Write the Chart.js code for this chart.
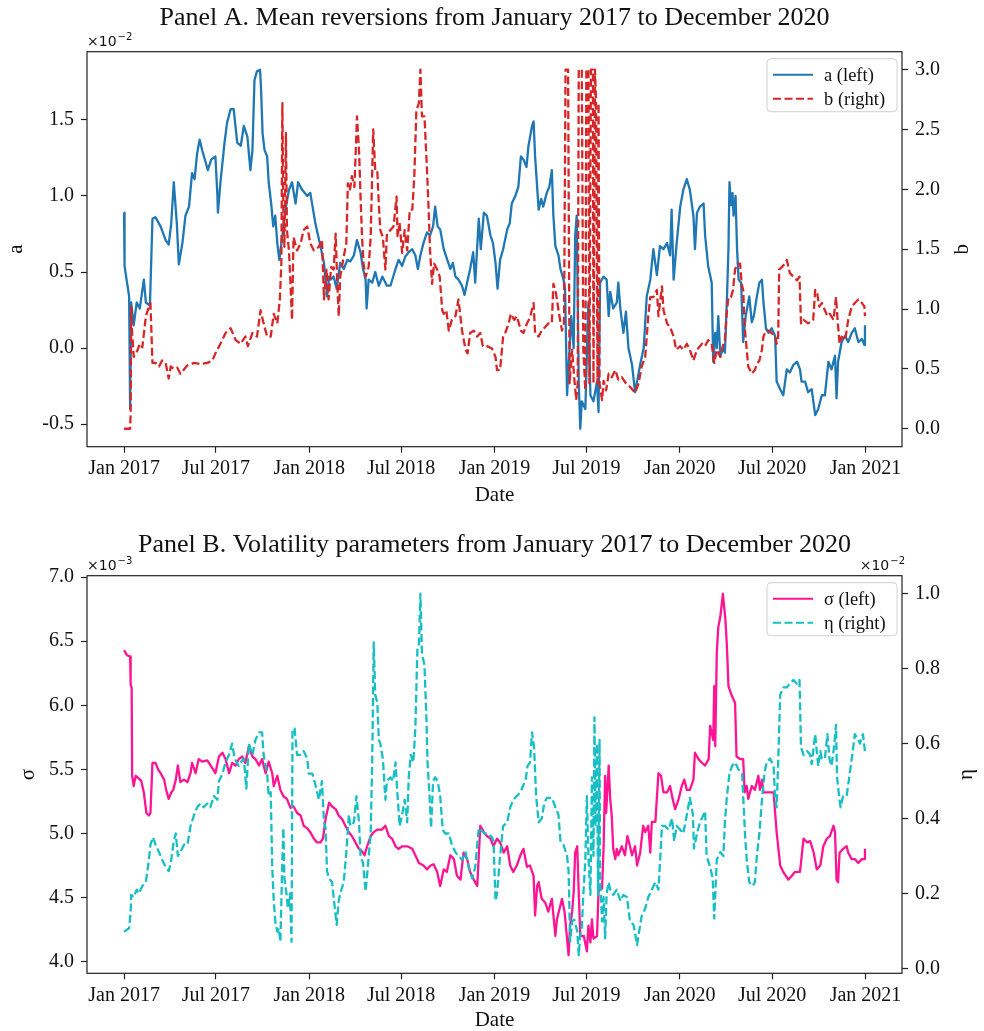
<!DOCTYPE html>
<html>
<head>
<meta charset="utf-8">
<script src="https://cdn.jsdelivr.net/npm/chart.js@4.4.1/dist/chart.umd.min.js"></script>
<style>
  html, body { margin: 0; padding: 0; background: #ffffff; }
  #wrap { position: relative; width: 984px; height: 1031px; overflow: hidden; }
  #wrap canvas { position: absolute; left: 0; }
</style>
</head>
<body>
<div id="wrap">
  <canvas id="panelA" width="984" height="520" style="top:0px"></canvas>
  <canvas id="panelB" width="984" height="511" style="top:520px"></canvas>
</div>
<script>
// x values are days counted from 1 Jan 2017.
const dateTickDays = [0, 181, 365, 546, 730, 911, 1095, 1277, 1461];
const dateTickLabels = ['Jan 2017', 'Jul 2017', 'Jan 2018', 'Jul 2018', 'Jan 2019',
                        'Jul 2019', 'Jan 2020', 'Jul 2020', 'Jan 2021'];

// Tick values of the four value axes (a and eta in units of 1e-2, sigma in units of 1e-3).
const aTicks = [-0.5, 0.0, 0.5, 1.0, 1.5];
const bTicks = [0.0, 0.5, 1.0, 1.5, 2.0, 2.5, 3.0];
const sigmaTicks = [4.0, 4.5, 5.0, 5.5, 6.0, 6.5, 7.0];
const etaTicks = [0.0, 0.2, 0.4, 0.6, 0.8, 1.0];

// Mean reversion a (x 1e-2): [day, value]
const aPoints = [[0,0.89],[1,0.54],[5,0.45],[10,0.34],[12,-0.40],[14,0.30],[19,0.15],[25,0.30],[31,0.26],[39,0.45],[43,0.30],[51,0.28],[56,0.85],[62,0.86],[72,0.80],[82,0.71],[88,0.68],[93,0.82],[98,1.09],[104,0.82],[108,0.55],[115,0.69],[121,0.87],[128,0.93],[134,1.15],[139,1.11],[144,1.28],[149,1.37],[154,1.30],[161,1.22],[165,1.17],[172,1.24],[180,1.26],[184,1.00],[185,0.89],[190,1.09],[198,1.35],[203,1.48],[210,1.57],[216,1.57],[223,1.35],[230,1.33],[236,1.46],[243,1.39],[249,1.17],[253,1.30],[257,1.76],[262,1.82],[268,1.83],[270,1.70],[273,1.41],[277,1.30],[282,1.26],[285,1.09],[290,0.95],[294,0.80],[298,0.87],[302,0.69],[306,0.58],[312,0.74],[318,0.91],[325,1.04],[331,1.09],[338,0.95],[343,1.09],[351,1.04],[361,1.00],[367,1.02],[377,0.82],[387,0.67],[394,0.56],[397,0.45],[400,0.34],[404,0.47],[407,0.45],[413,0.47],[419,0.39],[426,0.56],[433,0.52],[440,0.58],[446,0.57],[453,0.61],[459,0.71],[466,0.63],[471,0.52],[476,0.45],[478,0.26],[482,0.45],[489,0.43],[495,0.50],[502,0.41],[509,0.47],[518,0.41],[525,0.41],[535,0.52],[541,0.58],[548,0.54],[554,0.60],[561,0.63],[568,0.65],[574,0.61],[579,0.52],[584,0.61],[590,0.69],[597,0.76],[603,0.74],[609,0.80],[613,0.93],[618,0.80],[623,0.78],[630,0.65],[636,0.59],[643,0.52],[648,0.56],[653,0.47],[659,0.45],[666,0.41],[671,0.35],[676,0.43],[682,0.52],[688,0.63],[692,0.43],[699,0.85],[703,0.65],[709,0.89],[715,0.87],[722,0.74],[727,0.69],[732,0.56],[736,0.39],[741,0.58],[747,0.65],[755,0.78],[760,0.82],[764,0.95],[771,1.00],[777,1.06],[782,1.26],[787,1.24],[793,1.19],[797,1.33],[804,1.46],[807,1.49],[810,1.26],[814,1.06],[817,0.91],[822,0.98],[826,0.93],[833,1.02],[838,1.06],[843,1.17],[846,0.87],[850,0.67],[856,0.61],[860,0.52],[866,0.45],[869,0.39],[873,-0.31],[878,0.00],[881,0.21],[886,0.00],[889,0.74],[892,0.87],[896,-0.22],[899,-0.53],[902,-0.35],[909,-0.40],[915,0.30],[919,-0.31],[925,-0.35],[932,-0.22],[935,-0.42],[938,0.43],[945,0.47],[951,0.45],[955,0.21],[958,0.37],[964,0.26],[971,0.30],[974,0.43],[978,0.26],[984,0.10],[989,0.24],[994,0.00],[1001,-0.11],[1007,-0.29],[1011,-0.22],[1017,-0.11],[1024,0.00],[1030,0.34],[1037,0.45],[1043,0.65],[1050,0.48],[1056,0.67],[1063,0.65],[1070,0.69],[1076,0.61],[1079,0.91],[1083,0.45],[1089,0.69],[1096,0.93],[1102,1.04],[1109,1.11],[1115,1.04],[1122,0.87],[1125,0.65],[1129,0.89],[1135,0.93],[1142,0.95],[1145,0.74],[1151,0.54],[1158,0.43],[1161,-0.09],[1165,0.10],[1168,0.00],[1171,0.21],[1175,-0.05],[1181,0.00],[1184,-0.03],[1188,0.32],[1191,0.65],[1193,1.09],[1196,0.94],[1199,1.02],[1201,0.87],[1205,1.00],[1208,0.65],[1211,0.45],[1216,0.43],[1220,0.04],[1225,0.21],[1232,0.34],[1237,0.17],[1241,0.21],[1247,0.34],[1252,0.43],[1257,0.45],[1260,0.30],[1265,0.13],[1270,0.10],[1276,0.13],[1283,0.08],[1286,-0.22],[1293,-0.27],[1299,-0.31],[1306,-0.14],[1312,-0.16],[1319,-0.11],[1326,-0.09],[1332,-0.14],[1335,-0.22],[1342,-0.22],[1348,-0.29],[1355,-0.27],[1362,-0.44],[1368,-0.40],[1375,-0.31],[1381,-0.31],[1388,-0.09],[1394,-0.14],[1401,-0.05],[1404,-0.33],[1407,-0.09],[1414,0.04],[1421,0.08],[1427,0.04],[1434,0.10],[1440,0.13],[1447,0.04],[1454,0.06],[1459,0.02],[1460,0.15]];

// Mean reversion b: [day, value]
const bPoints = [[0,0.00],[12,0.00],[13,0.13],[14,1.02],[16,0.80],[19,0.60],[26,0.65],[31,0.71],[36,0.68],[43,0.94],[49,1.02],[52,1.05],[56,0.55],[62,0.55],[69,0.52],[75,0.57],[82,0.55],[88,0.42],[92,0.52],[98,0.50],[105,0.51],[111,0.46],[125,0.53],[138,0.55],[151,0.54],[164,0.55],[174,0.57],[180,0.63],[190,0.71],[200,0.80],[210,0.84],[220,0.74],[230,0.71],[239,0.77],[244,0.69],[253,0.80],[262,0.77],[269,0.99],[275,0.88],[282,0.77],[289,0.77],[295,0.96],[302,0.88],[307,1.08],[310,1.38],[312,2.72],[314,1.77],[316,1.52],[319,2.47],[321,1.66],[325,1.49],[328,1.21],[331,0.91],[334,1.60],[341,1.49],[348,1.55],[354,1.66],[361,1.69],[367,1.55],[374,1.49],[384,1.52],[390,1.58],[394,1.08],[399,1.33],[403,1.08],[408,1.35],[413,1.33],[417,1.63],[420,1.24],[423,0.94],[426,1.27],[433,1.44],[438,1.55],[441,2.05],[445,1.99],[449,2.11],[454,2.02],[459,2.61],[463,2.33],[466,1.94],[469,1.60],[472,1.38],[476,1.27],[482,1.35],[486,1.60],[491,2.50],[495,2.16],[499,2.16],[502,1.88],[505,1.66],[510,1.60],[515,1.33],[518,1.63],[525,1.66],[531,1.69],[537,1.94],[539,1.60],[543,1.72],[548,1.47],[553,1.66],[558,1.49],[563,1.83],[568,1.83],[572,2.11],[576,2.66],[581,2.72],[584,3.00],[587,2.61],[592,2.61],[597,2.16],[600,1.85],[603,1.49],[607,1.21],[611,1.38],[617,1.33],[622,1.27],[627,0.99],[630,0.96],[635,0.99],[640,0.82],[646,0.91],[653,0.94],[659,1.08],[666,0.82],[673,0.66],[677,0.63],[682,0.80],[689,0.82],[696,0.77],[702,0.80],[707,0.69],[715,0.69],[725,0.67],[732,0.60],[735,0.49],[741,0.49],[747,0.77],[751,0.80],[758,0.88],[762,0.96],[769,0.91],[774,0.94],[782,0.82],[787,0.80],[794,0.88],[800,0.93],[807,1.05],[810,0.80],[817,0.77],[823,0.82],[830,0.85],[836,0.88],[843,0.88],[846,1.21],[850,1.16],[854,1.05],[858,0.94],[863,0.82],[867,0.88],[870,3.00],[875,3.00],[878,0.38],[883,0.66],[887,0.43],[891,0.24],[894,0.38],[896,3.00],[902,3.00],[905,0.66],[909,0.32],[911,3.00],[915,3.00],[917,0.38],[920,3.00],[924,3.00],[925,0.38],[928,3.00],[930,2.75],[933,0.38],[935,2.72],[937,0.38],[942,0.24],[945,0.40],[950,0.32],[955,0.46],[961,0.43],[968,0.49],[974,0.41],[981,0.43],[989,0.38],[997,0.35],[1007,0.30],[1014,0.38],[1020,0.52],[1027,0.60],[1033,0.94],[1037,1.10],[1043,1.10],[1050,1.16],[1053,0.94],[1060,1.19],[1063,0.99],[1070,0.88],[1076,0.85],[1083,0.77],[1088,0.66],[1096,0.69],[1102,0.66],[1109,0.71],[1115,0.66],[1122,0.57],[1129,0.66],[1139,0.71],[1145,0.69],[1151,0.74],[1158,0.71],[1163,0.55],[1168,0.66],[1175,0.60],[1181,0.71],[1184,0.74],[1188,0.99],[1191,1.10],[1196,1.10],[1200,1.16],[1204,1.33],[1209,1.38],[1214,1.38],[1217,1.21],[1220,1.16],[1223,0.85],[1227,0.66],[1230,0.52],[1237,0.46],[1243,0.49],[1247,0.54],[1252,0.57],[1257,0.66],[1260,0.77],[1265,0.82],[1270,0.82],[1276,0.80],[1283,0.77],[1286,0.71],[1289,0.77],[1291,1.33],[1296,1.35],[1302,1.38],[1306,1.41],[1312,1.30],[1319,1.27],[1326,1.24],[1331,1.27],[1334,0.88],[1339,0.91],[1348,0.88],[1358,0.91],[1362,1.16],[1366,1.13],[1370,1.02],[1375,1.05],[1381,0.99],[1386,0.94],[1391,0.96],[1398,0.91],[1403,1.10],[1406,0.91],[1410,0.71],[1414,0.77],[1421,0.74],[1427,0.91],[1434,1.02],[1440,1.05],[1447,1.08],[1454,1.05],[1459,1.02],[1460,0.94]];

// Volatility sigma (x 1e-3): [day, value]
const sigmaPoints = [[0,6.43],[6,6.39],[12,6.38],[13,6.16],[15,6.14],[16,5.45],[19,5.37],[23,5.45],[29,5.43],[34,5.41],[39,5.32],[44,5.16],[49,5.14],[52,5.16],[56,5.55],[62,5.55],[67,5.50],[72,5.47],[79,5.42],[83,5.34],[88,5.27],[93,5.32],[97,5.34],[102,5.42],[106,5.53],[111,5.40],[118,5.42],[125,5.40],[131,5.47],[134,5.55],[141,5.47],[147,5.58],[154,5.56],[164,5.57],[174,5.51],[180,5.47],[187,5.60],[194,5.63],[200,5.58],[207,5.47],[213,5.55],[220,5.53],[226,5.58],[233,5.60],[239,5.55],[246,5.68],[253,5.60],[259,5.58],[266,5.53],[272,5.58],[279,5.47],[285,5.56],[292,5.47],[295,5.37],[302,5.45],[308,5.34],[314,5.29],[321,5.27],[328,5.20],[334,5.21],[341,5.16],[348,5.14],[354,5.06],[361,5.04],[367,5.01],[374,4.96],[380,4.93],[387,4.93],[392,4.96],[397,5.11],[404,5.24],[410,5.21],[417,5.19],[423,5.14],[430,5.11],[436,5.06],[443,5.01],[449,4.98],[456,4.93],[463,4.88],[469,4.86],[474,4.83],[479,4.90],[486,4.98],[492,5.01],[499,5.03],[508,5.03],[515,5.06],[522,4.98],[528,4.96],[535,4.90],[541,4.88],[548,4.90],[558,4.90],[568,4.88],[574,4.83],[581,4.77],[590,4.75],[597,4.72],[604,4.75],[610,4.76],[617,4.70],[623,4.59],[630,4.72],[636,4.70],[643,4.83],[650,4.80],[656,4.67],[663,4.64],[669,4.85],[676,4.80],[682,4.70],[689,4.64],[696,4.59],[702,5.06],[709,5.01],[715,4.98],[722,4.96],[728,4.90],[735,4.96],[741,4.93],[748,4.85],[755,4.90],[761,4.75],[767,4.70],[774,4.75],[781,4.83],[787,4.88],[794,4.74],[800,4.75],[807,4.67],[810,4.36],[814,4.59],[817,4.62],[823,4.49],[830,4.46],[836,4.39],[843,4.49],[850,4.20],[853,4.33],[860,4.44],[863,4.49],[868,4.39],[873,4.18],[876,4.05],[879,4.28],[883,4.39],[886,4.54],[889,4.85],[893,4.90],[896,4.54],[899,4.20],[906,4.20],[912,4.08],[915,4.28],[919,4.15],[922,4.33],[925,4.18],[932,4.20],[935,4.54],[938,4.59],[942,4.57],[945,4.90],[948,5.45],[950,5.16],[955,5.53],[958,5.27],[961,5.14],[964,4.88],[968,4.80],[971,4.88],[974,4.83],[981,4.90],[987,4.83],[992,4.98],[997,4.90],[1001,4.83],[1007,4.90],[1011,4.75],[1017,4.85],[1023,5.06],[1027,5.01],[1033,5.06],[1037,4.85],[1040,5.09],[1047,5.09],[1053,5.47],[1058,5.45],[1063,5.32],[1070,5.32],[1076,5.37],[1081,5.27],[1086,5.19],[1093,5.27],[1099,5.37],[1104,5.42],[1109,5.34],[1115,5.34],[1122,5.42],[1125,5.63],[1132,5.58],[1139,5.55],[1145,5.53],[1152,5.58],[1155,5.84],[1161,5.73],[1163,6.15],[1165,5.68],[1168,6.41],[1171,6.61],[1175,6.69],[1180,6.87],[1185,6.67],[1188,6.46],[1191,6.15],[1198,6.07],[1204,6.02],[1207,5.60],[1214,5.58],[1220,5.58],[1223,5.32],[1227,5.37],[1230,5.27],[1237,5.37],[1243,5.34],[1250,5.45],[1253,5.34],[1257,5.42],[1260,5.32],[1270,5.32],[1280,5.32],[1283,5.16],[1286,5.01],[1293,4.75],[1299,4.70],[1309,4.64],[1316,4.67],[1322,4.70],[1332,4.70],[1339,4.96],[1346,4.93],[1352,4.94],[1359,4.85],[1365,4.72],[1372,4.75],[1378,4.90],[1385,4.96],[1391,4.98],[1398,5.06],[1401,5.01],[1404,4.64],[1407,4.62],[1410,4.85],[1417,4.88],[1424,4.90],[1427,4.85],[1434,4.80],[1440,4.80],[1447,4.77],[1454,4.80],[1459,4.80],[1460,4.88]];

// Volatility eta (x 1e-2): [day, value]
const etaPoints = [[0,0.098],[10,0.107],[13,0.15],[14,0.196],[19,0.19],[25,0.21],[29,0.20],[36,0.22],[43,0.23],[49,0.29],[52,0.33],[57,0.35],[62,0.33],[69,0.31],[75,0.29],[82,0.27],[88,0.26],[92,0.28],[98,0.34],[102,0.36],[106,0.30],[111,0.31],[118,0.33],[125,0.33],[131,0.38],[138,0.41],[144,0.43],[151,0.44],[157,0.43],[164,0.44],[170,0.43],[177,0.46],[184,0.45],[187,0.50],[194,0.52],[200,0.55],[207,0.57],[213,0.60],[218,0.56],[226,0.54],[230,0.55],[236,0.56],[241,0.48],[246,0.60],[253,0.57],[259,0.61],[266,0.63],[272,0.63],[275,0.57],[282,0.52],[285,0.46],[289,0.47],[292,0.27],[295,0.18],[298,0.125],[302,0.098],[305,0.107],[308,0.071],[312,0.29],[314,0.375],[316,0.24],[320,0.20],[323,0.16],[327,0.20],[330,0.071],[332,0.64],[336,0.64],[341,0.57],[348,0.57],[354,0.58],[361,0.56],[364,0.52],[371,0.52],[377,0.49],[384,0.45],[390,0.50],[394,0.39],[397,0.375],[400,0.26],[404,0.24],[410,0.23],[413,0.19],[419,0.116],[423,0.18],[426,0.20],[433,0.23],[438,0.31],[443,0.41],[446,0.38],[453,0.39],[458,0.46],[463,0.39],[466,0.30],[471,0.28],[476,0.205],[479,0.25],[486,0.36],[489,0.55],[492,0.87],[495,0.73],[499,0.71],[502,0.61],[505,0.60],[510,0.56],[515,0.45],[518,0.50],[525,0.51],[530,0.50],[535,0.55],[538,0.48],[543,0.38],[548,0.41],[553,0.45],[558,0.39],[561,0.51],[565,0.57],[570,0.55],[574,0.64],[578,0.85],[581,0.86],[584,1.00],[587,0.84],[592,0.81],[596,0.66],[598,0.55],[602,0.46],[605,0.375],[609,0.50],[613,0.51],[618,0.50],[623,0.46],[628,0.37],[633,0.36],[640,0.36],[646,0.33],[653,0.31],[659,0.30],[666,0.29],[673,0.31],[679,0.27],[686,0.24],[692,0.27],[699,0.375],[703,0.37],[710,0.36],[716,0.36],[725,0.35],[728,0.34],[732,0.18],[735,0.20],[738,0.25],[741,0.30],[747,0.38],[755,0.39],[761,0.43],[767,0.45],[774,0.46],[781,0.47],[787,0.49],[791,0.50],[795,0.54],[800,0.55],[804,0.63],[808,0.59],[812,0.46],[817,0.39],[823,0.40],[828,0.44],[833,0.455],[843,0.455],[850,0.43],[856,0.41],[860,0.34],[866,0.33],[873,0.30],[876,0.26],[879,0.071],[883,0.125],[887,0.13],[893,0.10],[896,0.035],[899,0.09],[902,0.107],[905,0.196],[909,0.29],[912,0.46],[915,0.30],[919,0.196],[922,0.51],[925,0.30],[927,0.67],[929,0.38],[932,0.60],[934,0.196],[937,0.61],[938,0.24],[942,0.125],[945,0.19],[948,0.08],[951,0.20],[955,0.23],[958,0.21],[964,0.196],[971,0.21],[978,0.18],[984,0.196],[991,0.19],[997,0.125],[1004,0.116],[1011,0.062],[1014,0.09],[1020,0.14],[1027,0.16],[1033,0.19],[1040,0.21],[1047,0.23],[1053,0.21],[1056,0.28],[1060,0.38],[1066,0.38],[1073,0.37],[1080,0.40],[1084,0.34],[1089,0.38],[1096,0.37],[1102,0.36],[1109,0.41],[1115,0.455],[1121,0.41],[1123,0.32],[1129,0.36],[1135,0.39],[1142,0.41],[1145,0.42],[1148,0.30],[1155,0.27],[1160,0.24],[1163,0.133],[1168,0.29],[1175,0.31],[1181,0.30],[1184,0.39],[1188,0.46],[1193,0.52],[1198,0.54],[1204,0.55],[1211,0.53],[1218,0.52],[1220,0.46],[1224,0.35],[1227,0.29],[1232,0.23],[1239,0.22],[1243,0.23],[1247,0.30],[1252,0.36],[1257,0.45],[1262,0.52],[1266,0.55],[1273,0.56],[1280,0.54],[1283,0.45],[1286,0.43],[1289,0.55],[1293,0.73],[1299,0.75],[1306,0.75],[1312,0.76],[1319,0.77],[1326,0.76],[1331,0.77],[1334,0.59],[1339,0.57],[1346,0.58],[1352,0.57],[1355,0.545],[1362,0.625],[1365,0.58],[1368,0.54],[1372,0.58],[1375,0.56],[1381,0.56],[1386,0.625],[1390,0.56],[1394,0.54],[1399,0.59],[1403,0.65],[1405,0.51],[1409,0.46],[1412,0.43],[1417,0.46],[1424,0.46],[1430,0.52],[1436,0.58],[1440,0.625],[1447,0.61],[1450,0.60],[1456,0.625],[1460,0.58]];

const SERIF = "'Liberation Serif', 'Times New Roman', Times, serif";
const SANS = "'DejaVu Sans', sans-serif";
Chart.defaults.font.family = SERIF;
Chart.defaults.color = '#111111';

// Axis limits with a 5% margin around the data, as an autoscaled plot would have.
function paddedRange(values, frac = 0.05) {
  const lo = Math.min(...values), hi = Math.max(...values);
  const m = (hi - lo) * frac;
  return { min: lo - m, max: hi + m };
}
const toXY = pts => pts.map(([d, v]) => ({ x: d, y: v }));
const xRange = paddedRange([...aPoints, ...bPoints, ...sigmaPoints, ...etaPoints].map(p => p[0]));

const tickGrid = { display: true, drawOnChartArea: false, drawTicks: true, tickLength: 6,
                   tickColor: '#222222', tickWidth: 1.2 };

function xAxis(height) {
  return {
    type: 'linear', position: 'bottom', min: xRange.min, max: xRange.max,
    afterBuildTicks: s => { s.ticks = dateTickDays.map(v => ({ value: v })); },
    afterFit: s => { s.height = height; },
    ticks: { autoSkip: false, maxRotation: 0, minRotation: 0, padding: 4,
             font: { size: 20 }, color: '#111111',
             callback: (v, i) => dateTickLabels[i] },
    grid: tickGrid, border: { display: false }
  };
}
function yAxis(position, range, tickValues, width) {
  return {
    type: 'linear', position, min: range.min, max: range.max,
    afterBuildTicks: s => { s.ticks = tickValues.map(v => ({ value: v })); },
    afterFit: s => { s.width = width; },
    ticks: { padding: 7, font: { size: 20 }, color: '#111111', callback: v => v.toFixed(1) },
    grid: tickGrid, border: { display: false }
  };
}

function drawExponent(ctx, x, y, exp, align) {
  ctx.textBaseline = 'alphabetic';
  ctx.textAlign = 'left';
  ctx.font = `14px ${SANS}`;
  const w1 = ctx.measureText('×10').width;
  ctx.font = `10px ${SANS}`;
  const w2 = ctx.measureText(exp).width;
  const x0 = align === 'right' ? x - w1 - w2 - 1 : x;
  ctx.font = `14px ${SANS}`;
  ctx.fillText('×10', x0, y);
  ctx.font = `10px ${SANS}`;
  ctx.fillText(exp, x0 + w1 + 1, y - 6);
}

// Frame, titles, axis labels, scale multipliers and legend box.
const panelDecor = {
  id: 'panelDecor',
  afterDraw(chart, args, o) {
    const ctx = chart.ctx, ca = chart.chartArea;
    const cx = (ca.left + ca.right) / 2, cy = (ca.top + ca.bottom) / 2;
    ctx.save();
    ctx.strokeStyle = '#222222';
    ctx.lineWidth = 1.2;
    ctx.strokeRect(ca.left, ca.top, ca.right - ca.left, ca.bottom - ca.top);

    ctx.fillStyle = '#111111';
    ctx.textAlign = 'center';
    ctx.textBaseline = 'middle';
    ctx.font = `26px ${SERIF}`;
    ctx.fillText(o.title, cx, o.titleY);
    ctx.font = `21px ${SERIF}`;
    ctx.fillText('Date', cx, o.xLabelY);

    [[o.leftLabel, o.leftLabelX], [o.rightLabel, o.rightLabelX]].forEach(([txt, x]) => {
      ctx.save();
      ctx.translate(x, cy);
      ctx.rotate(-Math.PI / 2);
      ctx.fillText(txt, 0, 0);
      ctx.restore();
    });

    if (o.leftExp) drawExponent(ctx, ca.left, ca.top - 6, o.leftExp, 'left');
    if (o.rightExp) drawExponent(ctx, ca.right + 3, ca.top - 6, o.rightExp, 'right');

    // legend
    const w = 130, h = 53, x0 = ca.right - 5 - w, y0 = ca.top + 7;
    ctx.beginPath();
    ctx.roundRect(x0, y0, w, h, 4);
    ctx.fillStyle = 'rgba(255,255,255,0.85)';
    ctx.fill();
    ctx.strokeStyle = '#d0d0d0';
    ctx.lineWidth = 1;
    ctx.stroke();
    chart.data.datasets.forEach((ds, i) => {
      const ry = y0 + 16 + i * 24;
      ctx.beginPath();
      ctx.setLineDash(ds.borderDash || []);
      ctx.strokeStyle = ds.borderColor;
      ctx.lineWidth = 2;
      ctx.moveTo(x0 + 6, ry);
      ctx.lineTo(x0 + 46, ry);
      ctx.stroke();
      ctx.setLineDash([]);
      ctx.fillStyle = '#111111';
      ctx.textAlign = 'left';
      ctx.textBaseline = 'middle';
      ctx.font = `18.5px ${SERIF}`;
      ctx.fillText(ds.label, x0 + 57, ry + 1);
    });
    ctx.restore();
  }
};

function lineSet(label, pts, axis, color, dash, order) {
  return { label, data: toXY(pts), yAxisID: axis, borderColor: color, backgroundColor: color,
           borderWidth: 2.3, borderDash: dash, borderJoinStyle: 'round', borderCapStyle: 'butt',
           pointRadius: 0, pointHoverRadius: 0, tension: 0, fill: false, order };
}

function panel(id, datasets, scales, padTop, decor) {
  return new Chart(document.getElementById(id), {
    type: 'line',
    data: { datasets },
    options: {
      responsive: false, animation: false, devicePixelRatio: 1, parsing: false,
      layout: { padding: { top: padTop, left: 0, right: 0, bottom: 0 }, autoPadding: false },
      plugins: { legend: { display: false }, tooltip: { enabled: false }, panelDecor: decor },
      scales
    },
    plugins: [panelDecor]
  });
}

panel('panelA',
  [lineSet('a (left)', aPoints, 'yL', '#1f77b4', [], 2),
   lineSet('b (right)', bPoints, 'yR', '#d62728', [8, 3.5], 1)],
  { x: xAxis(73.3),
    yL: yAxis('left', paddedRange(aPoints.map(p => p[1])), aTicks, 87),
    yR: yAxis('right', paddedRange(bPoints.map(p => p[1])), bTicks, 82) },
  51.7,
  { title: 'Panel A. Mean reversions from January 2017 to December 2020', titleY: 18,
    xLabelY: 495, leftLabel: 'a', leftLabelX: 16, rightLabel: 'b', rightLabelX: 962,
    leftExp: '−2', rightExp: null });

panel('panelB',
  [lineSet('σ (left)', sigmaPoints, 'yL', '#ff1493', [], 2),
   lineSet('η (right)', etaPoints, 'yR', '#17bfc4', [8, 3.5], 1)],
  { x: xAxis(57.7),
    yL: yAxis('left', paddedRange(sigmaPoints.map(p => p[1])), sigmaTicks, 87),
    yR: yAxis('right', paddedRange(etaPoints.map(p => p[1])), etaTicks, 82) },
  55.7,
  { title: 'Panel B. Volatility parameters from January 2017 to December 2020', titleY: 25,
    xLabelY: 500, leftLabel: 'σ', leftLabelX: 28, rightLabel: 'η', rightLabelX: 966,
    leftExp: '−3', rightExp: '−2' });
</script>
</body>
</html>
